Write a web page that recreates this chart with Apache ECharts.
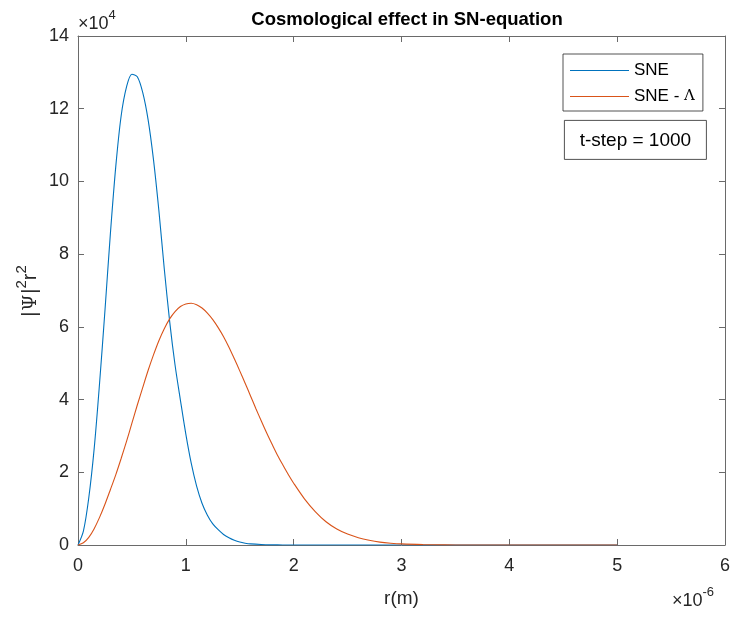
<!DOCTYPE html>
<html>
<head>
<meta charset="utf-8">
<script src="https://cdn.jsdelivr.net/npm/echarts@6/dist/echarts.min.js"></script>
<style>html,body{margin:0;padding:0;background:#fff;}#c{width:733px;height:617px;}</style>
</head>
<body>
<div id="c"></div>
<script>
// r in units of 1e-6 m
var rSNE = [0,0.05,0.1,0.15,0.2,0.25,0.3,0.35,0.4,0.45,0.5,0.55,0.6,0.65,0.7,0.75,0.8,0.85,0.9,0.95,1.0,1.05,1.1,1.15,1.2,1.25,1.3,1.35,1.4,1.45,1.5,1.55,1.6,1.7,1.8,1.9,2.0,2.5,3.0,3.5,4.0,4.5,5.0];
// |Psi|^2 r^2 in units of 1e4
var vSNE = [0,0.38,1.3,2.65,4.45,6.45,8.55,10.4,11.8,12.6,12.95,12.88,12.45,11.7,10.6,9.2,7.6,6.15,4.95,3.98,3.05,2.25,1.62,1.15,0.82,0.58,0.42,0.29,0.2,0.13,0.08,0.05,0.03,0.012,0.004,0.001,0,0,0,0,0,0,0];
var rLam = [0,0.05,0.1,0.15,0.2,0.25,0.3,0.35,0.4,0.45,0.5,0.55,0.6,0.65,0.7,0.75,0.8,0.85,0.9,0.95,1.0,1.05,1.1,1.15,1.2,1.25,1.3,1.35,1.4,1.45,1.5,1.55,1.6,1.65,1.7,1.75,1.8,1.85,1.9,1.95,2.0,2.1,2.2,2.3,2.4,2.5,2.6,2.7,2.8,2.9,3.0,3.2,3.4,3.6,4.0,4.5,5.0];
var vLam = [0,0.06,0.21,0.45,0.76,1.12,1.52,1.93,2.38,2.85,3.35,3.85,4.33,4.8,5.23,5.62,5.95,6.22,6.42,6.56,6.63,6.65,6.61,6.52,6.38,6.2,5.98,5.73,5.44,5.12,4.79,4.45,4.1,3.75,3.41,3.08,2.77,2.47,2.2,1.94,1.7,1.27,0.92,0.64,0.44,0.3,0.2,0.13,0.08,0.05,0.03,0.012,0.004,0.001,0,0,0];
var xTicks = ['0','1','2','3','4','5','6'];
var yTicks = ['0','2','4','6','8','10','12','14'];
var seriesNames = ['SNE', 'SNE - Λ'];

function pairs(xs, ys){ return xs.map(function(x,i){ return [x, ys[i]]; }); }

var axisCol = '#6a6a6a';
var txtCol = '#262626';
var font = 'Liberation Sans, Arial, Helvetica, sans-serif';
var serif = 'DejaVu Serif, Liberation Serif, serif';

var chart = echarts.init(document.getElementById('c'), null, {renderer:'canvas'});
chart.setOption({
  backgroundColor: '#fff',
  animation: false,
  title: {
    text: 'Cosmological effect in SN-equation',
    left: 402, top: 5, textAlign: 'center',
    textStyle: {fontFamily: font, fontWeight: 'bold', fontSize: 18.5, color: '#000'}
  },
  grid: {left: 78, right: 6, top: 36, bottom: 72, containLabel: false},
  legend: {
    left: 563, top: 54,
    orient: 'vertical',
    data: seriesNames,
    icon: 'rect',
    itemWidth: 59, itemHeight: 1,
    itemGap: 9,
    padding: [8, 8, 6, 7],
    borderColor: txtCol, borderWidth: 0.8,
    backgroundColor: '#fff',
    textStyle: {fontFamily: font, fontSize: 17, color: '#000', lineHeight: 17,
      rich: {n: {fontFamily: font, fontSize: 17, color: '#000', lineHeight: 17},
             l: {fontFamily: serif, fontSize: 15, color: '#000', lineHeight: 17}}},
    formatter: function(name){
      if (name.indexOf('Λ') >= 0) return '{n|SNE - }{l|Λ}';
      return '{n|' + name + '}';
    }
  },
  xAxis: [{
    type: 'value', min: 0, max: 6, interval: 1, position: 'bottom',
    axisLine: {show: true, onZero: false, lineStyle: {color: axisCol, width: 1}},
    axisTick: {show: true, inside: true, length: 6, lineStyle: {color: axisCol}},
    splitLine: {show: false},
    axisLabel: {fontFamily: font, fontSize: 18, color: txtCol, margin: 12,
      formatter: function(v){ return xTicks[Math.round(v)]; }},
    name: 'r(m)', nameLocation: 'middle', nameGap: 44,
    nameTextStyle: {fontFamily: font, fontSize: 19, color: txtCol}
  }, {
    type: 'value', min: 0, max: 6, interval: 1, position: 'top',
    axisLine: {show: true, onZero: false, lineStyle: {color: axisCol, width: 1}},
    axisTick: {show: true, inside: true, length: 6, lineStyle: {color: axisCol}},
    splitLine: {show: false}, axisLabel: {show: false}
  }],
  yAxis: [{
    type: 'value', min: 0, max: 14, interval: 2, position: 'left',
    axisLine: {show: true, onZero: false, lineStyle: {color: axisCol, width: 1}},
    axisTick: {show: true, inside: true, length: 6, lineStyle: {color: axisCol}},
    splitLine: {show: false},
    axisLabel: {fontFamily: font, fontSize: 18, color: txtCol, margin: 9,
      formatter: function(v){ return yTicks[Math.round(v/2)]; }}
  }, {
    type: 'value', min: 0, max: 14, interval: 2, position: 'right',
    axisLine: {show: true, onZero: false, lineStyle: {color: axisCol, width: 1}},
    axisTick: {show: true, inside: true, length: 6, lineStyle: {color: axisCol}},
    splitLine: {show: false}, axisLabel: {show: false}
  }],
  series: [{
    name: seriesNames[0], type: 'line', xAxisIndex: 0, yAxisIndex: 0,
    data: pairs(rSNE, vSNE), smooth: 0.3, symbol: 'none',
    lineStyle: {color: '#0072BD', width: 1.1}, itemStyle: {color: '#0072BD'}
  }, {
    name: seriesNames[1], type: 'line', xAxisIndex: 0, yAxisIndex: 0,
    data: pairs(rLam, vLam), smooth: 0.3, symbol: 'none',
    lineStyle: {color: '#D95319', width: 1.1}, itemStyle: {color: '#D95319'}
  }],
  graphic: [
    {type: 'text', left: 78, top: 9, style: {
      text: '{a|×10}{b|4}', rich: {
        a: {fontFamily: font, fontSize: 18, fill: txtCol, verticalAlign: 'bottom', lineHeight: 24},
        b: {fontFamily: font, fontSize: 13, fill: txtCol, verticalAlign: 'top', lineHeight: 24, padding: [0,0,10,0]}
      }}},
    {type: 'text', left: 672, top: 586, style: {
      text: '{a|×10}{b|-6}', rich: {
        a: {fontFamily: font, fontSize: 18, fill: txtCol, verticalAlign: 'bottom', lineHeight: 24},
        b: {fontFamily: font, fontSize: 13, fill: txtCol, verticalAlign: 'top', lineHeight: 24, padding: [0,0,10,0]}
      }}},
    {type: 'text', x: 27, y: 291, rotation: Math.PI/2, style: {
      text: '{a||}{p|Ψ}{a||}{b|2}{a|r}{b|2}', align: 'center', verticalAlign: 'middle', rich: {
        a: {fontFamily: font, fontSize: 20, fill: txtCol, verticalAlign: 'bottom', lineHeight: 26},
        p: {fontFamily: serif, fontSize: 18, fill: txtCol, verticalAlign: 'bottom', lineHeight: 26, padding: [0,1,0,1]},
        b: {fontFamily: font, fontSize: 15, fill: txtCol, verticalAlign: 'top', lineHeight: 26, padding: [0,0,11,0]}
      }}},
    {type: 'group', left: 564, top: 120, children: [
      {type: 'rect', shape: {x: 0, y: 0, width: 142, height: 39},
       style: {fill: '#fff', stroke: txtCol, lineWidth: 0.8}},
      {type: 'text', x: 71, y: 20, style: {text: 't-step = 1000', align: 'center', verticalAlign: 'middle',
       fontFamily: font, fontSize: 19, fill: '#000'}}
    ]}
  ]
});
</script>
</body>
</html>
